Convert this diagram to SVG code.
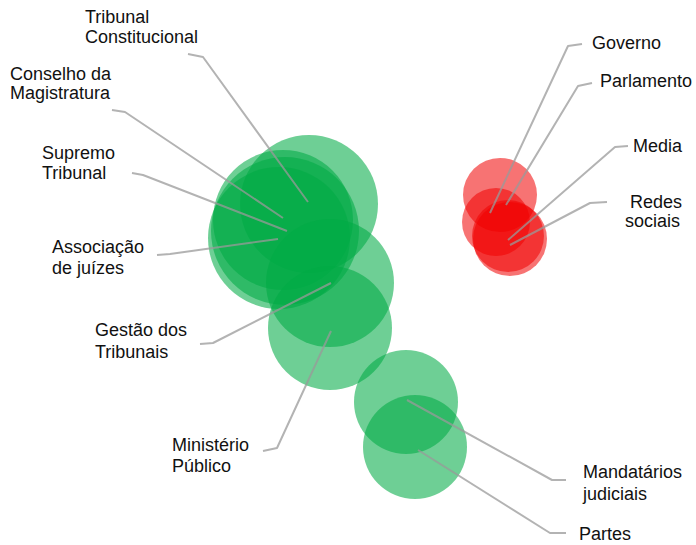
<svg xmlns="http://www.w3.org/2000/svg" width="696" height="545" viewBox="0 0 696 545">
<style>
  .lbl { font-family: "Liberation Sans", Arial, sans-serif; font-size: 18px; fill: #111; }
  .g { fill: #00aa44; fill-opacity: 0.57; }
  .r { fill: #f00000; fill-opacity: 0.55; }
  .conn polyline { fill: none; stroke: #999; stroke-width: 2; stroke-opacity: 0.75; stroke-linejoin: round; }
</style>
<rect width="696" height="545" fill="#fff"/>

<g id="tribunal-constitucional">
  <circle class="g" cx="309" cy="204" r="69"/>
  <text class="lbl" x="85" y="23">Tribunal</text>
  <text class="lbl" x="85" y="43">Constitucional</text>
</g>
<g id="conselho-magistratura">
  <circle class="g" cx="283" cy="220" r="70"/>
  <text class="lbl" x="10" y="80">Conselho da</text>
  <text class="lbl" x="10" y="99">Magistratura</text>
</g>
<g id="supremo-tribunal">
  <circle class="g" cx="285" cy="231" r="74"/>
  <text class="lbl" x="42" y="159">Supremo</text>
  <text class="lbl" x="42" y="179">Tribunal</text>
</g>
<g id="associacao-juizes">
  <circle class="g" cx="279" cy="238" r="71"/>
  <text class="lbl" x="52" y="253">Associação</text>
  <text class="lbl" x="52" y="274">de juízes</text>
</g>
<g id="gestao-tribunais">
  <circle class="g" cx="330" cy="283" r="64"/>
  <text class="lbl" x="95" y="336">Gestão dos</text>
  <text class="lbl" x="95" y="358">Tribunais</text>
</g>
<g id="ministerio-publico">
  <circle class="g" cx="330" cy="328" r="62"/>
  <text class="lbl" x="172" y="451">Ministério</text>
  <text class="lbl" x="172" y="472">Público</text>
</g>
<g id="mandatarios-judiciais">
  <circle class="g" cx="406" cy="402" r="52"/>
  <text class="lbl" x="583" y="478">Mandatários</text>
  <text class="lbl" x="583" y="500">judiciais</text>
</g>
<g id="partes">
  <circle class="g" cx="415" cy="447" r="52"/>
  <text class="lbl" x="579" y="540">Partes</text>
</g>

<g id="parlamento">
  <circle class="r" cx="500" cy="195" r="37"/>
  <text class="lbl" x="600" y="87">Parlamento</text>
</g>
<g id="governo">
  <circle class="r" cx="496" cy="222" r="34"/>
  <text class="lbl" x="592" y="49">Governo</text>
</g>
<g id="media">
  <circle class="r" cx="508" cy="236" r="36"/>
  <text class="lbl" x="633" y="152">Media</text>
</g>
<g id="redes-sociais">
  <circle class="r" cx="510" cy="239" r="37"/>
  <text class="lbl" x="630" y="208">Redes</text>
  <text class="lbl" x="625" y="227">sociais</text>
</g>

<g id="connectors" class="conn">
  <polyline points="188,54 203,57 308,202"/>
  <polyline points="112,110 125,112 283,218"/>
  <polyline points="132,173 143,175 287,231"/>
  <polyline points="157,255 170,254 278,239"/>
  <polyline points="200,344 213,343 331,283"/>
  <polyline points="263,451 277,448 331,331"/>
  <polyline points="566,480 552,480 407,400"/>
  <polyline points="566,533 550,533 418,450"/>
  <polyline points="582,44 568,46 490,213"/>
  <polyline points="592,83 578,86 506,205"/>
  <polyline points="628,146 615,147 508,240"/>
  <polyline points="607,202 590,203 510,245"/>
</g>
</svg>
